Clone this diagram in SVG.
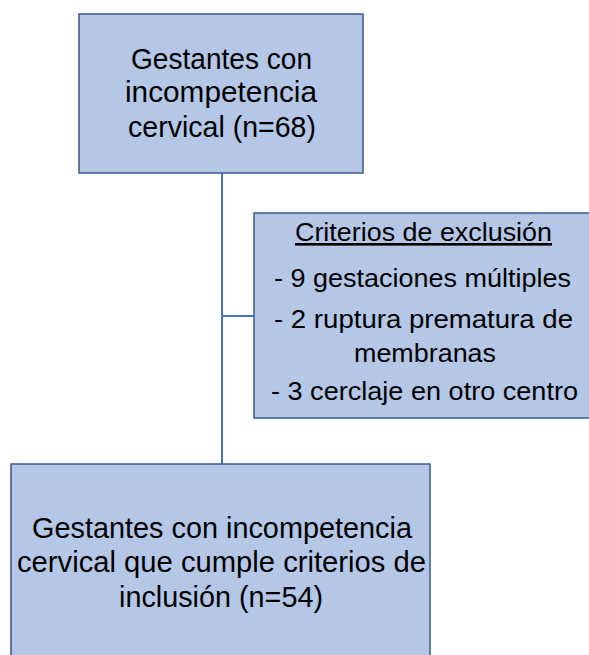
<svg xmlns="http://www.w3.org/2000/svg" width="589" height="655" viewBox="0 0 589 655">
<style>
.box{fill:#B4C7E7;stroke:#3B5A8C;stroke-width:1.5}
.t{font-family:"Liberation Sans",Arial,sans-serif;fill:#000;text-anchor:middle}
.big{font-size:29px}
.mid{font-size:26px}
.conn{stroke:#4472C4;stroke-width:2;fill:none}
</style>
<rect x="0" y="0" width="589" height="655" fill="#fff"/>
<g id="connectors">
<line class="conn" x1="222" y1="173" x2="222" y2="464"/>
<line class="conn" x1="222" y1="316" x2="254" y2="316"/>
</g>
<g id="node-top">
<rect class="box" x="79" y="14" width="284" height="159"/>
<text class="t big" x="221.5" y="69" textLength="181" lengthAdjust="spacingAndGlyphs">Gestantes con</text>
<text class="t big" x="221" y="102" textLength="192" lengthAdjust="spacingAndGlyphs">incompetencia</text>
<text class="t big" x="222" y="137" textLength="188" lengthAdjust="spacingAndGlyphs">cervical (n=68)</text>
</g>
<g id="node-exclusion">
<rect class="box" x="254" y="213" width="350" height="205"/>
<text class="t mid" x="423.5" y="241" textLength="257" lengthAdjust="spacingAndGlyphs" text-decoration="underline">Criterios de exclusión</text>
<text class="t mid" x="422.5" y="287" textLength="297" lengthAdjust="spacingAndGlyphs">- 9 gestaciones múltiples</text>
<text class="t mid" x="423.5" y="328" textLength="299" lengthAdjust="spacingAndGlyphs">- 2 ruptura prematura de</text>
<text class="t mid" x="425" y="362" textLength="142" lengthAdjust="spacingAndGlyphs">membranas</text>
<text class="t mid" x="424.5" y="400" textLength="307" lengthAdjust="spacingAndGlyphs">- 3 cerclaje en otro centro</text>
</g>
<g id="node-bottom">
<rect class="box" x="11" y="464" width="419" height="210"/>
<text class="t big" x="222" y="538" textLength="380" lengthAdjust="spacingAndGlyphs">Gestantes con incompetencia</text>
<text class="t big" x="221.5" y="572" textLength="409" lengthAdjust="spacingAndGlyphs">cervical que cumple criterios de</text>
<text class="t big" x="221" y="607" textLength="204" lengthAdjust="spacingAndGlyphs">inclusión (n=54)</text>
</g>
</svg>
